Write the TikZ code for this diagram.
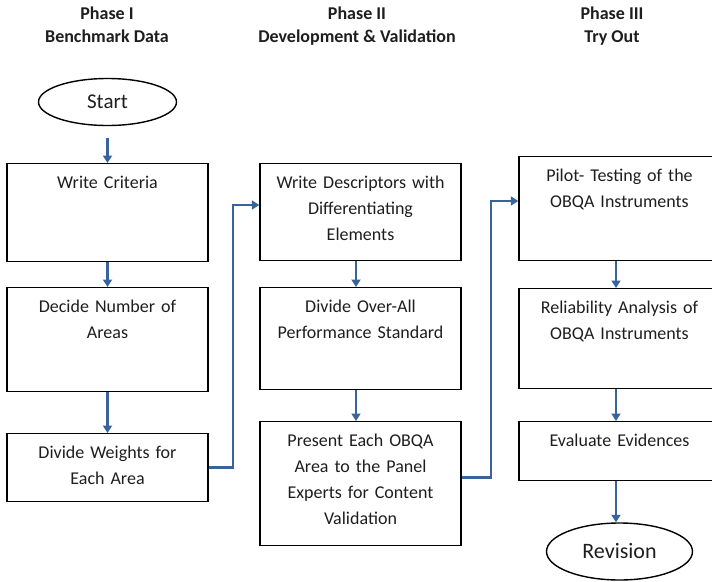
\documentclass[tikz,border=0pt]{standalone}
\usepackage{fontspec}
\setmainfont{Carlito}
\usetikzlibrary{arrows.meta,shapes.geometric}
\definecolor{flowblue}{RGB}{56,100,155}
\definecolor{inkgray}{RGB}{30,30,30}

\begin{document}
\begin{tikzpicture}
[ x=1pt, y=-1pt, text=inkgray
, phase/.style={font=\bfseries\fontsize{18}{23}\selectfont, align=center, anchor=north, inner sep=0pt}
, stage/.style={rectangle, draw=black, line width=1.4pt, anchor=north, inner xsep=6pt, inner ysep=0pt, text width=189pt, align=center, text height=24.5pt, font=\fontsize{18}{26}\selectfont}
, terminal/.style={ellipse, draw=black, line width=1.4pt, inner sep=0pt, font=\fontsize{21}{25}\selectfont}
, flow/.style={draw=flowblue, line width=2.8pt, -{Triangle[length=7.5pt,width=9pt]}}
]
\useasboundingbox (0,0) rectangle (712,581);
% Headings:
\node (ph1) [phase] at (107,6.5) {Phase I\\Benchmark Data};
\node (ph2) [phase] at (357,6.5) {Phase II\\Development \& Validation};
\node (ph3) [phase] at (612,6.5) {Phase III\\Try Out};
% First column:
\node (start) [terminal, minimum width=138pt, minimum height=47pt] at (107.5,102) {Start};
\node (crit) [stage, text depth=73.5pt] at (107.5,163) {Write Criteria};
\node (areas) [stage, text depth=79.5pt] at (107.5,287) {Decide Number of\\Areas};
\node (weights) [stage, text depth=43.5pt] at (107.5,433) {Divide Weights for\\Each Area};
% Second column:
\node (desc) [stage, text depth=72.5pt] at (360.5,163) {Write Descriptors with\\Differentiating\\Elements};
\node (perf) [stage, text depth=77.5pt] at (360.5,287) {Divide Over-All\\Performance Standard};
\node (present) [stage, text depth=99.5pt] at (360.5,421) {Present Each OBQA\\Area to the Panel\\Experts for Content\\Validation};
% Third column:
\node (pilot) [stage, text depth=79.5pt] at (619.5,156) {Pilot- Testing of the\\OBQA Instruments};
\node (reli) [stage, text depth=75.5pt] at (619.5,288) {Reliability Analysis of\\OBQA Instruments};
\node (evid) [stage, text depth=34.5pt] at (619.5,421) {Evaluate Evidences};
\node (rev) [terminal, minimum width=146pt, minimum height=57pt, font=\fontsize{22}{26}\selectfont] at (619.5,551.5) {Revision};
% Turning points:
\coordinate (jog1) at (233,205);
\coordinate (jog2) at (491,201);
% Arrows:
\draw [flow, shorten <=12pt] (start) -- (crit);
\draw [flow] (crit) -- (areas);
\draw [flow] (areas) -- (weights);
\draw [flow] (weights.east) -| (jog1) -- (jog1 -| desc.west);
\draw [flow] ([xshift=-4.5pt]desc.south) -- ([xshift=-4.5pt]perf.north);
\draw [flow] ([xshift=-4.5pt]perf.south) -- ([xshift=-4.5pt]present.north);
\draw [flow] ([yshift=6pt]present.east) -| (jog2) -- (jog2 -| pilot.west);
\draw [flow] ([xshift=-3.5pt]pilot.south) -- ([xshift=-3.5pt]reli.north);
\draw [flow] ([xshift=-3.5pt]reli.south) -- ([xshift=-3.5pt]evid.north);
\draw [flow] ([xshift=-3.5pt]evid.south) -- ([xshift=-3.5pt]rev.north);
\end{tikzpicture}
\end{document}
